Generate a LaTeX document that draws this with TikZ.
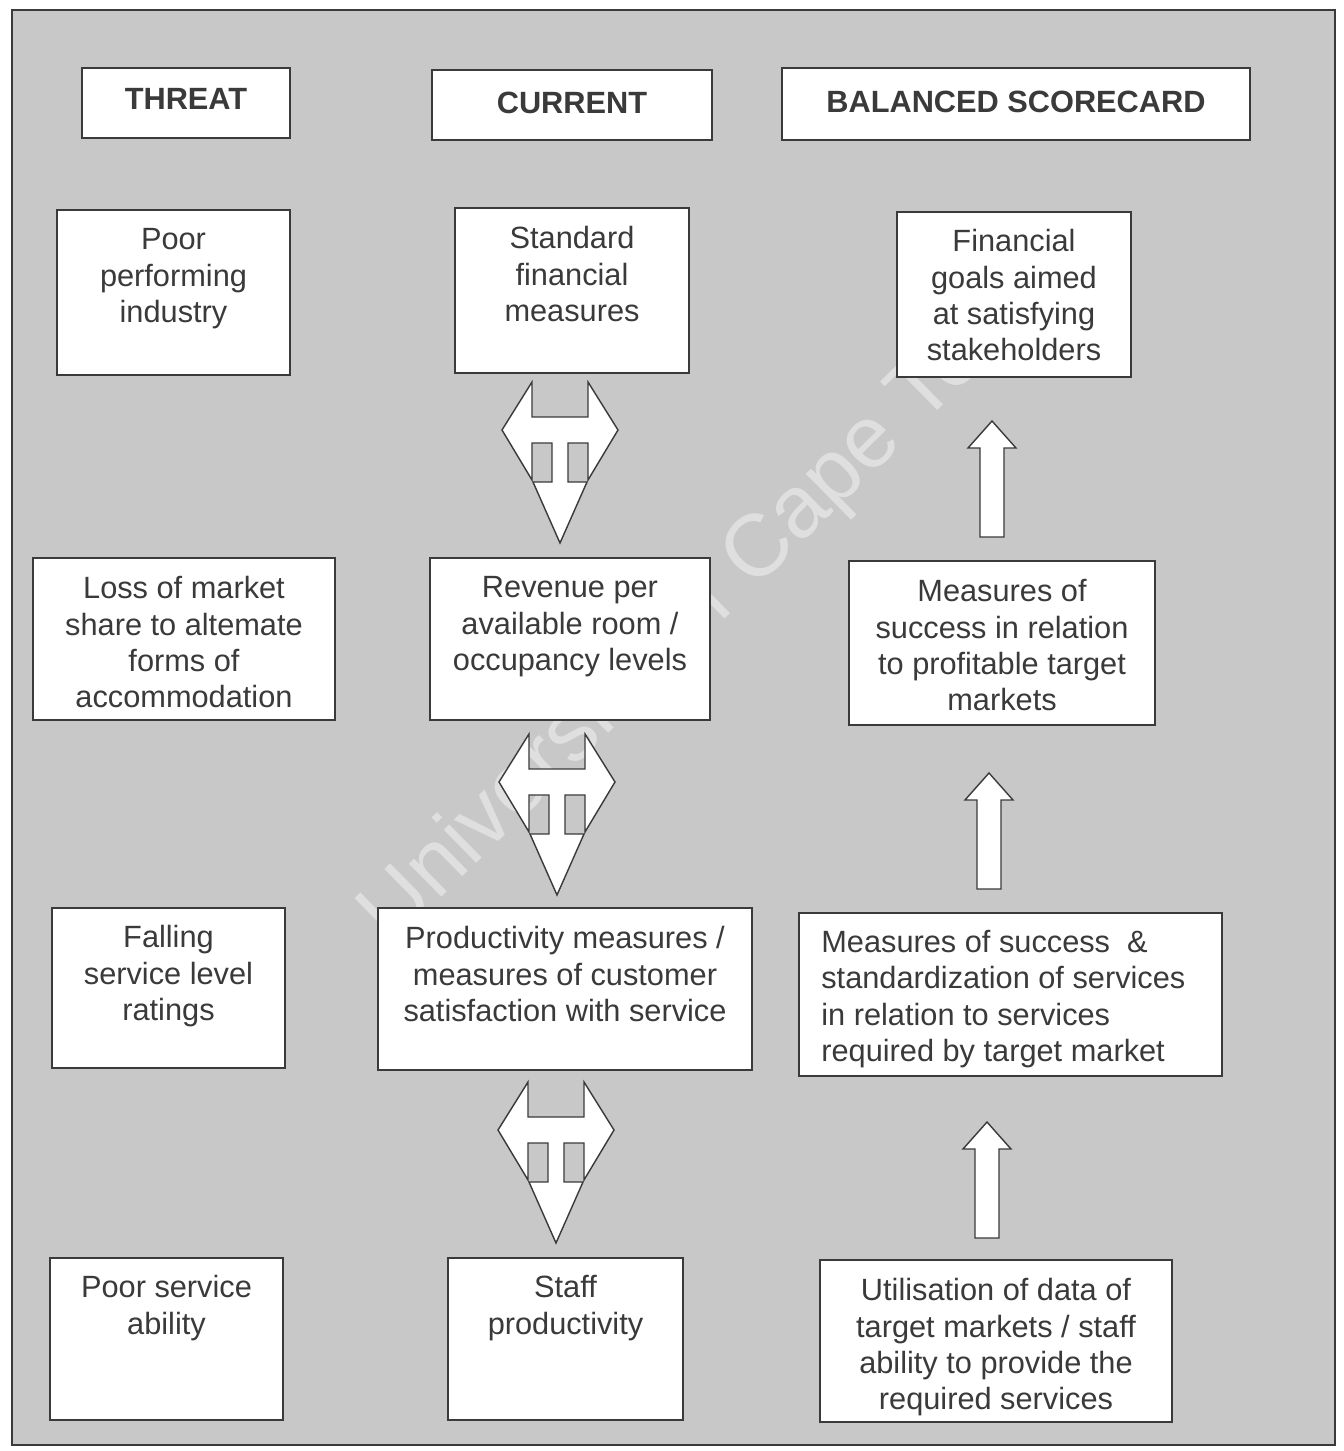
\documentclass[tikz,border=0pt]{standalone}
\usepackage{fontspec}
\setmainfont{Liberation Sans}
\usetikzlibrary{fit}
\definecolor{bg}{RGB}{200,200,200}
\definecolor{ink}{RGB}{58,58,58}
\tikzset{
  box/.style={draw=ink, line width=0.8pt, fill=white, inner sep=0pt},
  txt/.style={text=ink, align=center, inner sep=0pt, font=\fontsize{17.5}{20.6}\selectfont},
  hdr/.style={text=ink, inner sep=0pt, font=\bfseries\fontsize{17.5}{20.6}\selectfont},
  arr/.style={draw=ink, line width=0.8pt, fill=white, line join=miter},
  wmk/.style={rotate=44.5, inner sep=0pt, font=\fontsize{50}{55}\selectfont},
  tarrow/.pic={\path[arr] (-58,0) -- (-28,-48) -- (-28,-13) -- (28,-13) -- (28,-48) -- (58,0)
     -- (28,50) -- (28,13) -- (8,13) -- (8,52) -- (27,52) -- (0,113) -- (-27,52) -- (-8,52)
     -- (-8,13) -- (-28,13) -- (-28,50) -- cycle;},
  uparrow/.pic={\path[arr] (0,0) -- (24,27) -- (12,27) -- (12,116) -- (-12,116) -- (-12,27) -- (-24,27) -- cycle;}
}
\begin{document}
\begin{tikzpicture}[x=0.02cm, y=-0.02cm]
\useasboundingbox[fill=white] (0,0) rectangle (1344,1451);
\path[fill=bg, draw=ink, line width=0.6pt] (12,10) rectangle (1335,1445);
\node[wmk, text=white, text opacity=0.42] (wmark) at (714,598) {University of Cape Town};

% headers
\node[box, fit={(82,68) (290,138)}] (h1) {};
\node[hdr] (h1t) at ([yshift=0.08cm]h1.center) {THREAT};
\node[box, fit={(432,70) (712,140)}] (h2) {};
\node[hdr] (h2t) at ([yshift=0.04cm]h2.center) {CURRENT};
\node[box, fit={(782,68) (1250,140)}] (h3) {};
\node[hdr] (h3t) at ([yshift=0.04cm]h3.center) {BALANCED SCORECARD};

% row 1
\node[box, fit={(57,210) (290,375)}] (a1) {};
\node[txt, anchor=north] (a1t) at ([yshift=-0.38cm]a1.north) {Poor\\performing\\industry};
\node[box, fit={(455,208) (689,373)}] (b1) {};
\node[txt, anchor=north] (b1t) at ([yshift=-0.38cm]b1.north) {Standard\\financial\\measures};
\node[box, fit={(897,212) (1131,377)}] (c1) {};
\node[txt, anchor=north] (c1t) at ([yshift=-0.36cm]c1.north) {Financial\\goals aimed\\at satisfying\\stakeholders};

% row 2
\node[box, fit={(33,558) (335,720)}] (a2) {};
\node[txt, anchor=north] (a2t) at ([yshift=-0.38cm]a2.north) {Loss of market\\share to altemate\\forms of\\accommodation};
\node[box, fit={(430,558) (710,720)}] (b2) {};
\node[txt, anchor=north] (b2t) at ([yshift=-0.38cm]b2.north) {Revenue per\\available room /\\occupancy levels};
\node[box, fit={(849,561) (1155,725)}] (c2) {};
\node[txt, anchor=north] (c2t) at ([yshift=-0.38cm]c2.north) {Measures of\\success in relation\\to profitable target\\markets};

% row 3
\node[box, fit={(52,908) (285,1068)}] (a3) {};
\node[txt, anchor=north] (a3t) at ([yshift=-0.36cm]a3.north) {Falling\\service level\\ratings};
\node[box, fit={(378,908) (752,1070)}] (b3) {};
\node[txt, anchor=north] (b3t) at ([yshift=-0.38cm]b3.north) {Productivity measures /\\measures of customer\\satisfaction with service};
\node[box, fit={(799,913) (1222,1076)}] (c3) {};
\node[txt, align=left, anchor=north west] (c3t) at (821,930) {Measures of success\ \ \&\\standardization of services\\in relation to services\\required by target market};

% row 4
\node[box, fit={(50,1258) (283,1420)}] (a4) {};
\node[txt, anchor=north] (a4t) at ([yshift=-0.36cm]a4.north) {Poor service\\ability};
\node[box, fit={(448,1258) (683,1420)}] (b4) {};
\node[txt, anchor=north] (b4t) at ([yshift=-0.36cm]b4.north) {Staff\\productivity};
\node[box, fit={(820,1260) (1172,1422)}] (c4) {};
\node[txt, anchor=north] (c4t) at ([yshift=-0.38cm]c4.north) {Utilisation of data of\\target markets / staff\\ability to provide the\\required services};

% arrows
\pic at (560,430) {tarrow};
\pic at (557,782) {tarrow};
\pic at (556,1130) {tarrow};
\pic at (992,421) {uparrow};
\pic at (989,773) {uparrow};
\pic at (987,1122) {uparrow};
\end{tikzpicture}
\end{document}
